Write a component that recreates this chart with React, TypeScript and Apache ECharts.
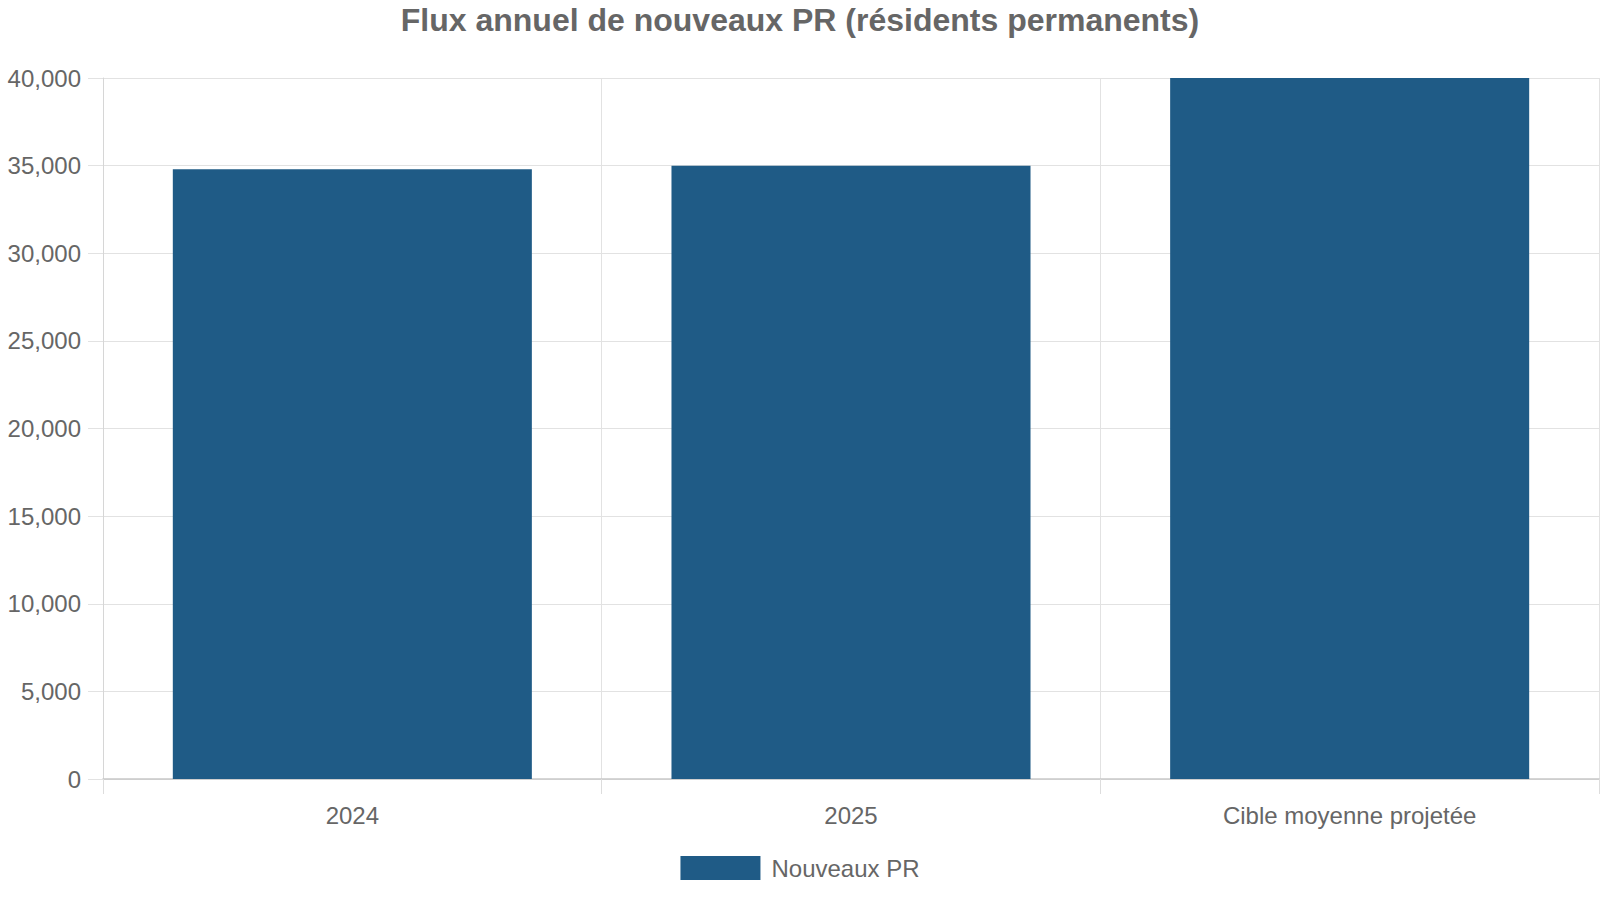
import React, { useEffect, useRef } from 'react';
import * as echarts from 'echarts';

// données
const categories = ['2024', '2025', 'Cible moyenne projetée'];
const nouveauxPR = [34800, 35000, 40000];
const seriesName = 'Nouveaux PR';
const yMin = 0;
const yMax = 40000;
const yStep = 5000;

const FONT = '"Liberation Sans", Arial, sans-serif';
const TEXT_COLOR = '#666666';
const BAR_COLOR = '#1f5b86';

const App: React.FC = () => {
    const chartRef = useRef<HTMLDivElement>(null);

    useEffect(() => {
        if (!chartRef.current) return;
        const chart = echarts.init(chartRef.current, undefined, { renderer: 'svg' });

        chart.setOption({
            animation: false,
            backgroundColor: '#ffffff',
            textStyle: { fontFamily: FONT },
            title: {
                text: 'Flux annuel de nouveaux PR (résidents permanents)',
                left: 'center',
                top: 4,
                padding: 0,
                textStyle: {
                    fontFamily: FONT,
                    fontSize: 32,
                    fontWeight: 'bold',
                    color: TEXT_COLOR,
                },
            },
            legend: {
                data: [seriesName],
                left: 'center',
                top: 856,
                padding: 0,
                icon: 'rect',
                itemWidth: 80,
                itemHeight: 24,
                textStyle: {
                    fontFamily: FONT,
                    fontSize: 24,
                    color: TEXT_COLOR,
                    padding: [0, 0, 0, 6],
                },
            },
            grid: { left: 103, right: 1, top: 78, bottom: 121 },
            xAxis: {
                type: 'category',
                data: categories,
                boundaryGap: true,
                axisLine: { show: true, lineStyle: { color: '#c8c8c8', width: 1.5 } },
                axisTick: { show: true, length: 15, lineStyle: { color: '#dddddd' } },
                splitLine: { show: true, lineStyle: { color: '#e2e2e2' } },
                axisLabel: {
                    fontFamily: FONT,
                    fontSize: 24,
                    color: TEXT_COLOR,
                    margin: 24,
                },
            },
            yAxis: {
                type: 'value',
                min: yMin,
                max: yMax,
                interval: yStep,
                axisLine: { show: true, lineStyle: { color: '#d6d6d6' } },
                axisTick: { show: true, length: 15, lineStyle: { color: '#e2e2e2' } },
                splitLine: { show: true, lineStyle: { color: '#e2e2e2' } },
                axisLabel: {
                    fontFamily: FONT,
                    fontSize: 24,
                    color: TEXT_COLOR,
                    margin: 22,
                    formatter: (value: number) => value.toLocaleString('en-US'),
                },
            },
            series: [
                {
                    name: seriesName,
                    type: 'bar',
                    data: nouveauxPR,
                    barCategoryGap: '28%',
                    itemStyle: { color: BAR_COLOR },
                },
            ],
        });

        return () => {
            chart.dispose();
        };
    }, []);

    return (
        <div
            ref={chartRef}
            style={{ position: 'fixed', left: 0, top: 0, width: 1600, height: 900 }}
        />
    );
};

export default App;
